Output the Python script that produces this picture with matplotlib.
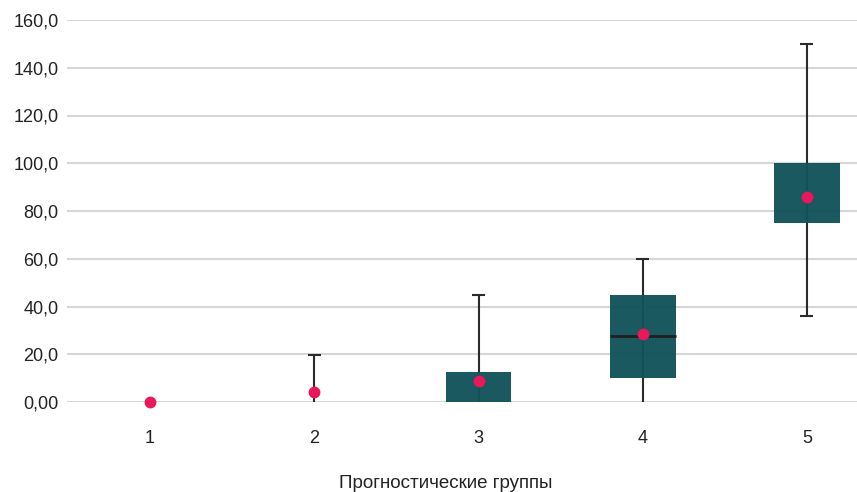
import numpy as np
import matplotlib.pyplot as plt

plt.rcParams['font.family'] = ['Liberation Sans', 'DejaVu Sans']

groups = [1, 2, 3, 4, 5]
q1 = [0, 0, 0, 10, 75]
q3 = [0, 0, 12.5, 45, 100]
medians = [np.nan, np.nan, np.nan, 27.5, np.nan]
whisk_lo = [0, 0, 0, 0, 36]
whisk_hi = [0, 19.5, 45, 60, 150]
means = [0, 4, 9, 28.5, 86]
yticks = [0, 20, 40, 60, 80, 100, 120, 140, 160]
ytick_labels = ['0,00', '20,0', '40,0', '60,0', '80,0', '100,0', '120,0', '140,0', '160,0']

box_color = '#12535a'
mean_color = '#e8185a'
line_color = '#2b2b2b'

fig = plt.figure(figsize=(8.57, 4.92), dpi=100)
ax = fig.add_axes([67 / 857, 1 - 402 / 492, 1 - 67 / 857, (402 - 20) / 492])

x = np.array(groups, dtype=float)
has_whisk = [hi > lo for lo, hi in zip(whisk_lo, whisk_hi)]

ax.vlines(x, whisk_lo, whisk_hi, color=line_color, lw=1.5, zorder=2)
xc = x[has_whisk]
ax.hlines(np.array(whisk_hi)[has_whisk], xc - 0.04, xc + 0.04, color=line_color, lw=1.5, zorder=2)
lo_caps = [h and lo > 0 for h, lo in zip(has_whisk, whisk_lo)]
ax.hlines(np.array(whisk_lo)[lo_caps], x[lo_caps] - 0.04, x[lo_caps] + 0.04,
          color=line_color, lw=1.5, zorder=2)

heights = np.array(q3) - np.array(q1)
ax.bar(x, heights, bottom=q1, width=0.40, color=box_color, alpha=0.97, zorder=3)
ax.hlines(medians, x - 0.2, x + 0.2, color='#1f1f1f', lw=2, zorder=4)
ax.plot(x, means, 'o', color=mean_color, ms=7.5, zorder=5, clip_on=False)

ax.set_xlim(0.494, 5.305)
ax.set_ylim(0, 160)
ax.set_yticks(yticks)
ax.set_yticklabels(ytick_labels)
ax.set_xticks(groups)
ax.set_xticklabels([str(g) for g in groups])
ax.grid(axis='y', color='#d6d6d6', lw=1.5, zorder=0)
ax.set_axisbelow(True)
for s in ax.spines.values():
    s.set_visible(False)
ax.tick_params(axis='both', length=0, labelsize=13, colors='#222222')
ax.tick_params(axis='y', pad=6)
ax.tick_params(axis='x', pad=20)

fig.text(446 / 857, 1 - 483 / 492, 'Прогностические группы', ha='center', va='center',
         fontsize=13.5, color='#222222')

fig.savefig('out.png', dpi=100)
